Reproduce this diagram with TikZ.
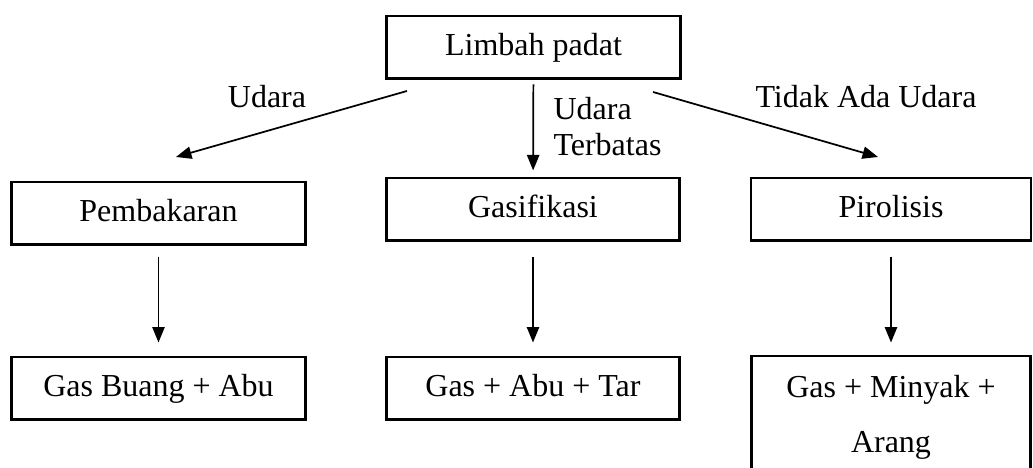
\documentclass[tikz,border=0pt]{standalone}
\usepackage{fontspec}
\setmainfont{Liberation Serif}
\usetikzlibrary{arrows.meta}

\tikzset{
  kotak/.style={draw, line width=1.1pt, inner sep=0pt, minimum width=110pt,
    minimum height=23.6pt, font=\fontsize{12}{13.5}\selectfont},
  sebaris/.style={kotak, text height=8.4pt, text depth=2.6pt},
  panah/.style={line width=0.65pt, -{Triangle[length=5.8pt,width=4.6pt]}},
  teks/.style={font=\fontsize{12}{13.5}\selectfont, inner sep=0pt}
}

\begin{document}
\begin{tikzpicture}[x=0.375pt, y=-0.375pt]
            \useasboundingbox (0,0) rectangle (1033,468);
            \draw (533.5,47.5) node[sebaris] (limbah) {Limbah padat};
            \draw (158.5,213.5) node[sebaris] (bakar) {Pembakaran};
            \draw (533,209.5) node[sebaris] (gasif) {Gasifikasi};
            \draw (891,209.5) node[sebaris, minimum width=105pt] (pirol) {Pirolisis};
            \draw (158.5,388.5) node[sebaris] (hasilbakar) {Gas Buang + Abu};
            \draw (533,388.5) node[sebaris] (hasilgasif) {Gas + Abu + Tar};
            \draw (891,417.5) node[kotak, minimum width=104.6pt, minimum height=46.1pt,
                  align=center] (hasilpirol) {Gas + Minyak +\\[7.1pt]Arang};
            % arah aliran dari limbah
            \coordinate (kiriA) at (407,91);
            \coordinate (kiriB) at (176,157);
            \coordinate (kananA) at (653,92);
            \coordinate (kananB) at (878,157);
            \draw (267,97) node[teks] (udara) {Udara};
            \draw (553,127) node[teks, anchor=west, align=left] (terbatas) {Udara\\Terbatas};
            \draw (866,97) node[teks] (tidakada) {Tidak Ada Udara};
            \draw[panah] (kiriA) -- (kiriB);
            \draw[panah] (kananA) -- (kananB);
            \draw[panah, shorten <=1.5pt, shorten >=2.3pt] (limbah) -- (gasif);
            % ke hasil
            \draw[panah, shorten <=3.8pt, shorten >=4.9pt] (bakar) -- (hasilbakar);
            \draw[panah, shorten <=5.3pt, shorten >=4.9pt] (gasif) -- (hasilgasif);
            \draw[panah, shorten <=5.3pt, shorten >=4.5pt] (pirol) -- (hasilpirol);
        \end{tikzpicture}
\end{document}
